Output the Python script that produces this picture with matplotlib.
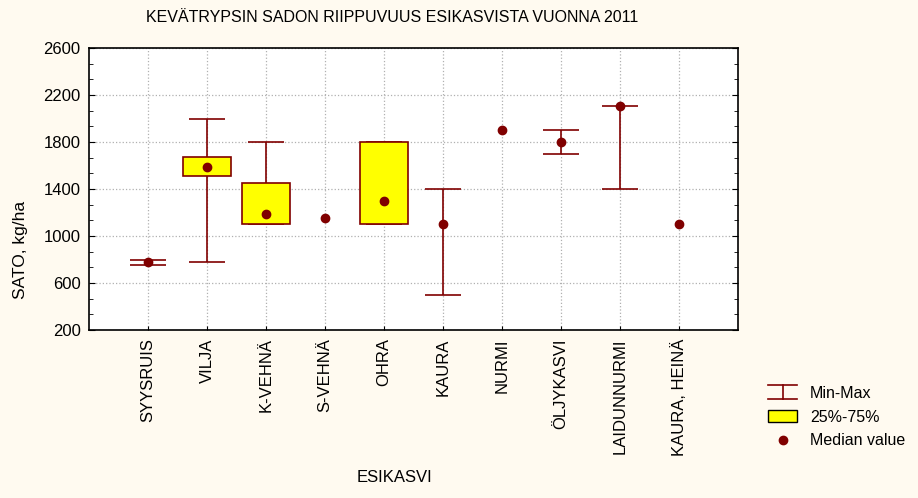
import numpy as np
import matplotlib.pyplot as plt
from matplotlib.lines import Line2D
from matplotlib.patches import Rectangle
from matplotlib.legend_handler import HandlerBase

plt.rcParams['font.family'] = ['Liberation Sans', 'DejaVu Sans']

# Data
esikasvi = ['SYYSRUIS', 'VILJA', 'K-VEHNÄ', 'S-VEHNÄ', 'OHRA', 'KAURA',
            'NURMI', 'ÖLJYKASVI', 'LAIDUNNURMI', 'KAURA, HEINÄ']
nan = np.nan
minimi = [750, 780, 1100, nan, 1100, 500, nan, 1700, 1400, nan]
maksimi = [800, 2000, 1800, nan, 1800, 1400, nan, 1900, 2110, nan]
q25 = [nan, 1510, 1100, nan, 1100, nan, nan, nan, nan, nan]
q75 = [nan, 1670, 1450, nan, 1800, nan, nan, nan, nan, nan]
mediaani = [775, 1590, 1190, 1150, 1300, 1100, 1900, 1800, 2110, 1100]

dred = '#800000'
bg = '#FFFAF0'

fig = plt.figure(figsize=(9.18, 4.98), dpi=100, facecolor=bg)
ax = fig.add_axes([89/918, 1-330/498, 649/918, 282/498])
ax.set_facecolor('white')

x = np.arange(1, len(esikasvi) + 1)
cap = 0.31

# Min-Max
ax.vlines(x, minimi, maksimi, color=dred, lw=1.2, zorder=2)
ax.hlines(minimi, x - cap, x + cap, color=dred, lw=1.2, zorder=2)
ax.hlines(maksimi, x - cap, x + cap, color=dred, lw=1.2, zorder=2)

# 25%-75%
ax.bar(x, np.array(q75) - np.array(q25), bottom=q25, width=0.8,
       color='#FFFF00', edgecolor=dred, lw=1.2, zorder=3)

# Median
ax.plot(x, mediaani, 'o', color=dred, ms=6, zorder=4)

ax.set_xlim(0, 11)
ax.set_ylim(200, 2600)
ax.set_yticks(np.arange(200, 2601, 400))
ax.set_yticks(np.arange(200, 2601, 400/3), minor=True)
ax.set_xticks(x)
ax.set_xticklabels(esikasvi, rotation=90, fontsize=12)
ax.tick_params(axis='y', which='both', direction='in', right=True, labelsize=12, pad=6)
ax.tick_params(axis='y', which='major', length=4)
ax.tick_params(axis='y', which='minor', length=3)
ax.tick_params(axis='x', direction='in', length=3, pad=6)
ax.grid(True, linestyle=':', color='#b0b0b0', lw=0.9, zorder=0)
ax.set_axisbelow(True)
for s in ax.spines.values():
    s.set_linewidth(1.2)

fig.text(392/918, 1-18/498, 'KEVÄTRYPSIN SADON RIIPPUVUUS ESIKASVISTA VUONNA 2011',
         ha='center', va='center', fontsize=11.5)
fig.text(21/918, 1-250/498, 'SATO, kg/ha', rotation=90, ha='center', va='center', fontsize=12.5)
fig.text(395/918, 1-478/498, 'ESIKASVI', ha='center', va='center', fontsize=12)


class MinMaxHandler(HandlerBase):
    def create_artists(self, legend, orig, xd, yd, w, h, fs, trans):
        lines = [
            Line2D([xd, xd + w], [yd + h + 1, yd + h + 1], color=dred, lw=1.2),
            Line2D([xd, xd + w], [yd - 1, yd - 1], color=dred, lw=1.2),
            Line2D([xd + w/2, xd + w/2], [yd - 1, yd + h + 1], color=dred, lw=1.2),
        ]
        for ln in lines:
            ln.set_transform(trans)
        return lines


mm = Line2D([], [], color=dred)
box = Rectangle((0, 0), 1, 1, facecolor='#FFFF00', edgecolor='black', lw=1)
med = Line2D([], [], ls='none', marker='o', color=dred, ms=6)
fig.legend([mm, box, med], ['Min-Max', '25%-75%', 'Median value'],
           handler_map={mm: MinMaxHandler()},
           loc='center left', bbox_to_anchor=(754/918, 1-417/498),
           frameon=False, fontsize=11.5, handlelength=1.8, handletextpad=0.8,
           labelspacing=0.55)

fig.savefig('out.png', dpi=100, facecolor=bg)
